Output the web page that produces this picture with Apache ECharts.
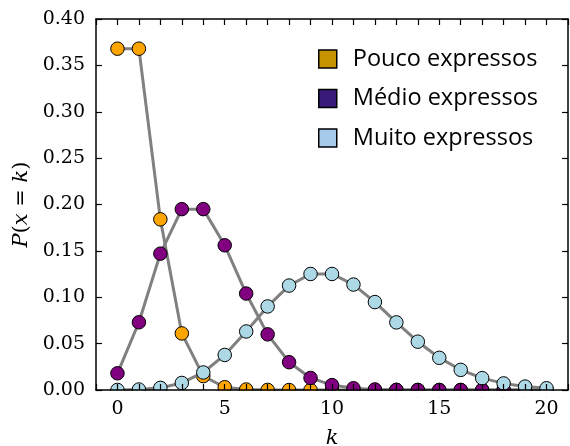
<!DOCTYPE html>
<html>
<head>
<meta charset="utf-8">
<script src="https://cdn.jsdelivr.net/npm/echarts@6/dist/echarts.min.js"></script>
<style>html,body{margin:0;padding:0;background:#fff}#c{width:570px;height:446px}</style>
</head>
<body>
<div id="c"></div>
<script>
var kValues = [0,1,2,3,4,5,6,7,8,9,10,11,12,13,14,15,16,17,18,19,20];
var seriesNames = ['Pouco expressos', 'Médio expressos', 'Muito expressos'];
var pouco = [0.368,0.368,0.184,0.061,0.015,0.003,0.0005,0.0001,0,0,0,0,0,0,0,0,0,0,0,0,0];
var medio = [0.018,0.073,0.147,0.195,0.195,0.156,0.104,0.060,0.030,0.013,0.0053,0.0019,0.0006,0.0002,0.00005,0,0,0,0,0,0];
var muito = [0.00005,0.0005,0.0023,0.0076,0.0189,0.0378,0.0631,0.0901,0.1126,0.1251,0.1251,0.1137,0.0948,0.0729,0.0521,0.0347,0.0217,0.0128,0.0071,0.0037,0.0019];
var xTicks = [0,5,10,15,20];
var yTicks = ['0.00','0.05','0.10','0.15','0.20','0.25','0.30','0.35','0.40'];

var markerColors = ['#ffa500', '#800080', '#add8e6'];
var legendColors = ['#c59400', '#381a78', '#a6cbea'];
var seriesData = [pouco, medio, muito];

var chart = echarts.init(document.getElementById('c'));
var serif = 'DejaVu Serif';
var gridL = 96, gridR = 2, gridT = 19, gridB = 56;

function pairs(arr) { return kValues.map(function (k, i) { return [k, arr[i]]; }); }

var axisCommon = {
  axisLine: { show: true, onZero: false, lineStyle: { color: '#000', width: 1.5 } },
  axisTick: { show: true, inside: true, length: 6, lineStyle: { color: '#000', width: 1.2 } },
  splitLine: { show: false },
  z: 10
};

var option = {
  animation: false,
  backgroundColor: '#fff',
  grid: { left: gridL, right: gridR, top: gridT, bottom: gridB, containLabel: false, outerBoundsMode: 'none' },
  legend: {
    orient: 'vertical',
    left: 313, top: 42,
    icon: 'rect',
    itemWidth: 18, itemHeight: 18, itemGap: 15.5,
    textStyle: { fontFamily: 'Open Sans', fontSize: 23.5, color: '#000', padding: [0, 0, 0, 11] },
    data: seriesNames.map(function (n, i) {
      return { name: n, itemStyle: { color: legendColors[i], borderColor: '#000', borderWidth: 1.5 } };
    })
  },
  xAxis: [
    Object.assign({}, axisCommon, {
      type: 'value', min: -1, max: 21, interval: 1, position: 'bottom',
      name: 'k', nameLocation: 'middle', nameGap: 38,
      nameTextStyle: { fontFamily: serif, fontStyle: 'italic', fontSize: 21, color: '#000' },
      axisTick: Object.assign({}, axisCommon.axisTick, { interval: function (idx, v) { return xTicks.indexOf(v) >= 0; } }),
      axisLabel: {
        fontFamily: serif, fontSize: 19, color: '#000', margin: 10,
        formatter: function (v) { return xTicks.indexOf(v) >= 0 ? String(v) : ''; }
      }
    }),
    Object.assign({}, axisCommon, {
      type: 'value', min: -1, max: 21, interval: 1, position: 'top',
      axisTick: Object.assign({}, axisCommon.axisTick, { interval: function (idx, v) { return xTicks.indexOf(v) >= 0; } }),
      axisLabel: { show: false }
    })
  ],
  yAxis: [
    Object.assign({}, axisCommon, {
      type: 'value', min: 0, max: 0.4, interval: 0.05, position: 'left',
      name: '{i|P}{r|(}{i|x}{r| = }{i|k}{r|)}', nameLocation: 'middle', nameGap: 61,
      nameTextStyle: {
        fontFamily: serif, fontSize: 21, color: '#000',
        rich: {
          i: { fontFamily: serif, fontStyle: 'italic', fontSize: 21, color: '#000' },
          r: { fontFamily: serif, fontSize: 21, color: '#000' }
        }
      },
      axisLabel: {
        fontFamily: serif, fontSize: 19, color: '#000', margin: 11,
        formatter: function (v) { return yTicks[Math.round(v / 0.05)]; }
      }
    }),
    Object.assign({}, axisCommon, {
      type: 'value', min: 0, max: 0.4, interval: 0.05, position: 'right',
      axisLabel: { show: false }
    })
  ],
  series: seriesNames.map(function (n, i) {
    return {
      name: n, type: 'line', z: 2 + i,
      data: pairs(seriesData[i]),
      symbol: 'circle', symbolSize: 13.5, showAllSymbol: true, clip: false,
      lineStyle: { color: '#808080', width: 3 },
      itemStyle: { color: markerColors[i], borderColor: '#000', borderWidth: 1 },
      emphasis: { disabled: true }
    };
  })
};
chart.setOption(option);
var y0 = chart.convertToPixel({ yAxisIndex: 0 }, 0);
var xl = chart.convertToPixel({ xAxisIndex: 0 }, -1);
var xr = chart.convertToPixel({ xAxisIndex: 0 }, 21);
chart.setOption({
  graphic: [{
    type: 'rect', z: 8,
    shape: { x: xl + 1, y: y0 + 0.8, width: xr - xl - 2, height: 7 },
    style: { fill: '#fff' }, silent: true
  }]
});
</script>
</body>
</html>
